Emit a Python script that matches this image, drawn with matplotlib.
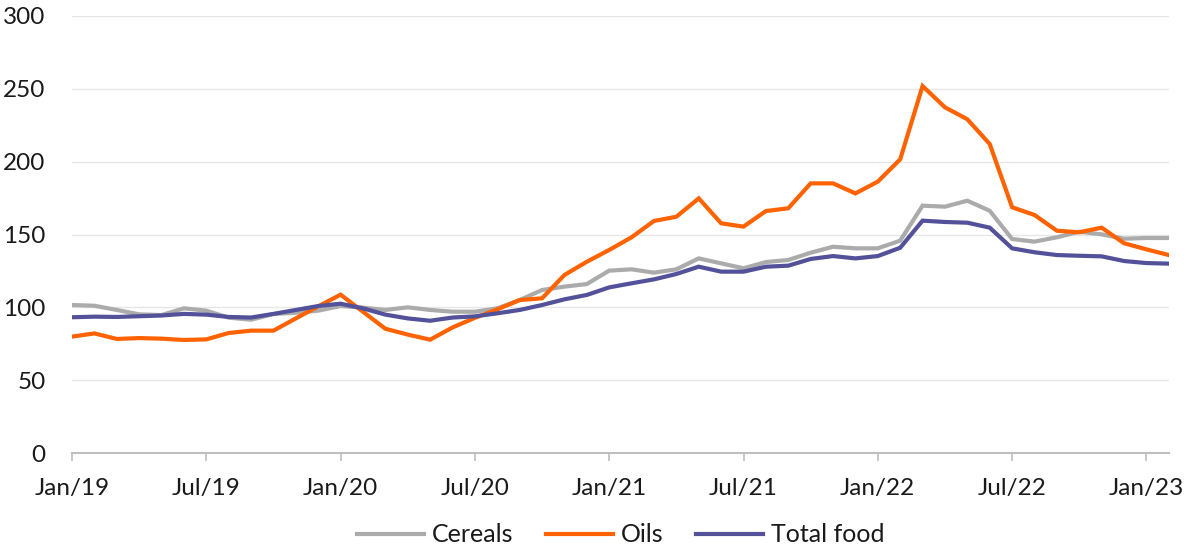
import matplotlib
matplotlib.use("Agg")
import matplotlib.pyplot as plt
import numpy as np

# Monthly index values, Jan 2019 .. Feb 2023
cereals = [101.6, 101.1, 98.2, 95.2, 94.7, 99.3, 97.7, 92.9, 91.5, 95.4,
           96.3, 97.7, 100.9, 99.8, 98.2, 100.0, 98.2, 97.0, 97.0, 99.3,
           105.0, 111.9, 114.2, 116.0, 125.2, 126.1, 123.8, 126.1, 133.6, 130.2,
           126.8, 131.1, 132.5, 137.5, 141.6, 140.5, 140.5, 145.8, 169.8, 169.1,
           173.2, 166.3, 146.9, 145.1, 148.1, 151.9, 150.1, 147.1, 147.6, 147.6]
oils = [79.9, 82.1, 78.3, 78.9, 78.5, 77.6, 78.0, 82.4, 84.0, 84.0,
        92.4, 100.7, 108.7, 97.0, 85.3, 81.3, 77.8, 86.2, 92.8, 98.6,
        105.0, 106.2, 122.2, 131.3, 139.4, 148.1, 159.3, 162.2, 174.8, 157.7,
        155.4, 166.1, 168.0, 185.1, 185.1, 178.2, 186.3, 201.6, 251.9, 237.3,
        229.1, 212.1, 168.7, 163.4, 152.6, 151.5, 154.7, 144.0, 139.8, 135.9]
total_food = [93.2, 93.6, 93.4, 93.9, 94.4, 95.5, 95.0, 93.4, 93.0, 95.5,
              98.2, 100.9, 102.5, 99.3, 95.0, 92.4, 90.8, 93.0, 93.8, 95.9,
              98.2, 101.6, 105.5, 108.5, 113.7, 116.5, 119.2, 122.9, 127.9, 124.5,
              124.5, 127.9, 128.6, 133.2, 135.2, 133.6, 135.2, 140.9, 159.5, 158.6,
              158.1, 154.7, 140.5, 137.8, 135.9, 135.4, 135.0, 131.8, 130.4, 130.0]
tick_labels = ["Jan/19", "Jul/19", "Jan/20", "Jul/20", "Jan/21",
               "Jul/21", "Jan/22", "Jul/22", "Jan/23"]
series_names = ["Cereals", "Oils", "Total food"]
colors = ["#ABABAB", "#FF6200", "#525199"]

plt.rcParams['font.family'] = ['Lato', 'DejaVu Sans']

fig = plt.figure(figsize=(12, 5.59), dpi=100)
ax = fig.add_axes([0.06, 0.1896, 0.914, 0.7818])

x = np.arange(len(cereals))
for vals, name, c in zip([cereals, oils, total_food], series_names, colors):
    ax.plot(x, vals, color=c, lw=3.0, label=name, solid_joinstyle='miter')

ax.set_xlim(0, len(cereals) - 1)
ax.set_ylim(0, 300)
ax.set_yticks(np.arange(0, 301, 50))
ax.set_xticks(np.arange(0, 49, 6))
ax.set_xticklabels(tick_labels)

ax.grid(axis='y', color='#E6E6E6', lw=1.0)
ax.set_axisbelow(True)
for s in ['left', 'right', 'top']:
    ax.spines[s].set_visible(False)
ax.spines['bottom'].set_color('#BFBFBF')
ax.spines['bottom'].set_linewidth(1.5)
ax.tick_params(axis='y', length=0, pad=19, labelsize=17.5, labelcolor='#1A1A1A')
ax.tick_params(axis='x', length=6, width=1.2, color='#BFBFBF', pad=12,
               labelsize=17.5, labelcolor='#1A1A1A')

leg = fig.legend(loc='center', bbox_to_anchor=(0.517, 0.043), ncol=3, frameon=False,
                 fontsize=18, handlelength=2.7, handletextpad=0.3, columnspacing=1.3)
for t in leg.get_texts():
    t.set_color('#1A1A1A')

fig.savefig("out.png", dpi=100)
